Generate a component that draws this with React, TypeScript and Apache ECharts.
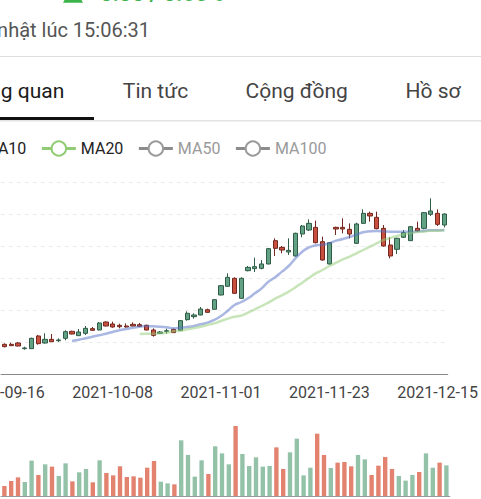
import React, { useEffect, useRef } from 'react';
import * as echarts from 'echarts';

const dates = [
  '2021-09-16', '2021-09-17', '2021-09-20', '2021-09-21', '2021-09-22', '2021-09-23', '2021-09-24', '2021-09-27', '2021-09-28', '2021-09-29',
  '2021-09-30', '2021-10-01', '2021-10-04', '2021-10-05', '2021-10-06', '2021-10-07', '2021-10-08', '2021-10-11', '2021-10-12', '2021-10-13',
  '2021-10-14', '2021-10-15', '2021-10-18', '2021-10-19', '2021-10-20', '2021-10-21', '2021-10-22', '2021-10-25', '2021-10-26', '2021-10-27',
  '2021-10-28', '2021-10-29', '2021-11-01', '2021-11-02', '2021-11-03', '2021-11-04', '2021-11-05', '2021-11-08', '2021-11-09', '2021-11-10',
  '2021-11-11', '2021-11-12', '2021-11-15', '2021-11-16', '2021-11-17', '2021-11-18', '2021-11-19', '2021-11-22', '2021-11-23', '2021-11-24',
  '2021-11-25', '2021-11-26', '2021-11-29', '2021-11-30', '2021-12-01', '2021-12-02', '2021-12-03', '2021-12-06', '2021-12-07', '2021-12-08',
  '2021-12-09', '2021-12-10', '2021-12-13', '2021-12-14', '2021-12-15', '2021-12-16',
];

const opens = [
  29.27, 29.27, 29.69, 27.92, 27.92, 31.88, 29.69, 30.83, 30.42, 31.15,
  33.33, 31.98, 32.71, 34.17, 33.75, 36.25, 35.63, 35.21, 35.0, 35.52,
  35.42, 35.21, 33.75, 32.71, 33.33, 33.96, 33.65, 36.98, 37.92, 38.44,
  40.1, 40.21, 44.69, 47.4, 49.9, 43.65, 52.29, 52.92, 53.02, 54.38,
  61.67, 59.58, 58.13, 56.88, 63.75, 65.0, 65.83, 61.35, 54.38, 65.83,
  65.83, 65.21, 60.83, 67.08, 70.21, 68.96, 65.52, 60.31, 58.96, 62.71,
  61.67, 65.52, 65.52, 69.9, 70.21, 66.56,
];
const closes = [
  28.54, 28.85, 28.75, 28.13, 31.15, 29.48, 30.83, 30.1, 30.63, 33.23,
  32.5, 33.13, 34.27, 33.65, 35.94, 35.0, 34.69, 34.79, 34.69, 35.0,
  34.9, 33.75, 32.08, 33.13, 33.54, 32.92, 36.67, 38.96, 38.44, 40.31,
  39.27, 43.23, 47.6, 50.21, 45.21, 49.9, 53.33, 53.54, 54.38, 59.17,
  59.27, 58.75, 58.65, 63.96, 66.25, 67.08, 61.04, 55.63, 61.04, 65.31,
  65.31, 63.75, 66.88, 70.21, 69.38, 65.42, 60.0, 56.88, 62.4, 64.17,
  66.04, 64.69, 70.42, 70.94, 66.77, 70.0,
];
const lows = [
  28.33, 28.75, 28.65, 27.6, 27.81, 29.17, 29.48, 30.0, 30.0, 30.52,
  32.4, 31.88, 32.19, 33.54, 33.65, 34.9, 34.48, 34.27, 34.48, 34.9,
  34.79, 33.65, 31.67, 32.5, 32.6, 32.81, 33.54, 36.67, 37.29, 38.33,
  39.17, 40.1, 44.58, 47.29, 45.1, 43.44, 52.08, 51.88, 52.71, 54.27,
  56.88, 57.71, 57.19, 56.67, 62.71, 64.69, 60.83, 55.42, 54.17, 63.44,
  63.96, 62.4, 60.63, 66.88, 67.6, 65.21, 59.79, 56.15, 57.5, 62.6,
  61.56, 64.48, 65.21, 69.38, 66.25, 65.83,
];
const highs = [
  29.58, 29.79, 30.0, 28.54, 31.35, 32.19, 32.71, 32.5, 31.15, 33.65,
  33.54, 34.06, 35.0, 34.69, 36.25, 36.46, 36.35, 35.73, 35.83, 36.15,
  35.94, 35.42, 34.27, 33.44, 34.17, 34.17, 36.88, 39.58, 38.96, 40.94,
  40.42, 43.44, 47.81, 51.46, 50.21, 50.21, 53.75, 56.35, 55.63, 59.38,
  62.4, 60.0, 62.4, 64.17, 66.56, 68.33, 67.92, 62.92, 61.25, 66.04,
  68.65, 67.08, 67.29, 71.46, 70.73, 70.73, 66.56, 62.71, 62.6, 65.0,
  66.25, 67.6, 70.63, 74.9, 71.46, 70.21,
];
const volumes = [
  125, 188, 233, 175, 442, 263, 396, 367, 250, 408,
  183, 296, 338, 171, 446, 288, 258, 371, 238, 246,
  229, 354, 438, 179, 158, 146, 696, 513, 242, 446,
  275, 621, 533, 396, 875, 525, 375, 483, 367, 375,
  608, 338, 546, 717, 258, 354, 779, 513, 350, 417,
  425, 371, 513, 458, 263, 379, 488, 338, 250, 192,
  263, 300, 533, 354, 417, 383,
];
const ma10 = [
  null, null, null, null, null, null, null, null, null, null,
  30.31, 30.73, 31.15, 31.67, 32.08, 32.6, 33.13, 33.65, 34.06, 34.48,
  34.79, 35.0, 34.9, 34.79, 34.58, 34.27, 34.48, 34.69, 35.0, 35.52,
  36.04, 36.88, 38.13, 39.79, 41.56, 42.5, 43.65, 45.21, 46.77, 48.85,
  50.21, 51.98, 53.75, 56.15, 58.23, 59.58, 60.21, 60.42, 60.83, 61.67,
  62.19, 62.81, 63.54, 64.27, 64.58, 64.69, 64.58, 64.48, 64.48, 64.48,
  64.38, 64.58, 64.79, 64.9, 64.9, 65.0,
];
const ma20 = [
  null, null, null, null, null, null, null, null, null, null,
  null, null, null, null, null, null, null, null, null, null,
  32.5, 32.6, 32.6, 32.71, 32.92, 33.33, 33.54, 33.96, 34.38, 34.79,
  35.31, 35.83, 36.56, 37.29, 37.92, 38.23, 39.17, 40.21, 41.25, 42.29,
  43.54, 44.58, 45.73, 47.08, 48.54, 50.0, 51.46, 52.5, 53.75, 54.79,
  55.83, 56.67, 57.71, 58.75, 59.79, 60.83, 61.88, 62.5, 63.13, 63.65,
  64.06, 64.38, 64.48, 64.79, 64.79, 65.0,
];
const ma50: number[] = [];
const ma100: number[] = [];
const legendNames = ['MA10', 'MA20', 'MA50', 'MA100'];
const tabs = ['Tổng quan', 'Tin tức', 'Cộng đồng', 'Hồ sơ'];
const tabCenters = [15, 155.5, 296.7, 433];

const OFF = 100;
const UP = '#62a183';
const UP_BORDER = '#2f5c47';
const DOWN = '#c9503f';
const DOWN_BORDER = '#72281f';
const VOL_UP = '#93c2a9';
const VOL_DOWN = '#e2826f';
const GREEN_TXT = '#3cb44b';
const FONT = 'Roboto';

export default function App() {
  const ref = useRef<HTMLDivElement>(null);
  useEffect(() => {
    const chart = echarts.init(ref.current!, null, { renderer: 'svg' });
    const X = (sx: number) => sx + OFF;
    const candleData = dates.map((_, i) => [opens[i], closes[i], lows[i], highs[i]]);
    const volData = volumes.map((v, i) => ({
      value: v,
      itemStyle: { color: closes[i] >= opens[i] ? VOL_UP : VOL_DOWN },
    }));
    chart.setOption({
      animation: false,
      textStyle: { fontFamily: FONT },
      color: ['#5470c6', '#91cc75', '#fac858', '#ee6666'],
      legend: {
        data: legendNames,
        selected: { MA50: false, MA100: false },
        left: X(-61.7),
        top: 135.3,
        itemWidth: 34,
        itemHeight: 18,
        itemGap: 14,
        textStyle: { fontSize: 16, color: '#222', fontFamily: FONT },
        inactiveColor: '#9a9a9a',
        lineStyle: { width: 3, opacity: 1, inactiveColor: '#8c8c8c', inactiveWidth: 3 },
        itemStyle: { opacity: 1, inactiveColor: '#8c8c8c', inactiveBorderColor: '#8c8c8c' },
      },
      grid: [
        { left: 101, right: 31.2, top: 182, bottom: 125 },
        { left: 101, right: 31.2, top: 416, bottom: 3 },
      ],
      xAxis: [
        {
          type: 'category',
          data: dates,
          gridIndex: 0,
          boundaryGap: true,
          axisLine: { lineStyle: { color: '#8a8a8a', width: 1 } },
          axisTick: { alignWithLabel: true, interval: 15, length: 5, lineStyle: { color: '#8a8a8a' } },
          axisLabel: { interval: 15, fontSize: 16, color: '#444', margin: 10, fontFamily: FONT },
          splitLine: { show: false },
        },
        {
          type: 'category',
          data: dates,
          gridIndex: 1,
          boundaryGap: true,
          axisLine: { lineStyle: { color: '#9a9a9a', width: 1 } },
          axisTick: { show: false },
          axisLabel: { show: false },
          splitLine: { show: false },
        },
      ],
      yAxis: [
        {
          type: 'value',
          gridIndex: 0,
          min: 20,
          max: 80,
          interval: 10,
          axisLabel: { show: false },
          axisLine: { show: false },
          axisTick: { show: false },
          splitLine: { lineStyle: { color: '#ececec', type: [4, 4] } },
        },
        {
          type: 'value',
          gridIndex: 1,
          min: 0,
          max: 1000,
          axisLabel: { show: false },
          axisLine: { show: false },
          axisTick: { show: false },
          splitLine: { show: false },
        },
      ],
      series: [
        {
          name: 'K',
          type: 'candlestick',
          xAxisIndex: 0,
          yAxisIndex: 0,
          data: candleData,
          barWidth: '70%',
          itemStyle: {
            color: UP,
            color0: DOWN,
            borderColor: UP_BORDER,
            borderColor0: DOWN_BORDER,
            borderWidth: 1,
          },
        },
        {
          name: 'MA10', type: 'line', data: ma10, smooth: true, showSymbol: false,
          xAxisIndex: 0, yAxisIndex: 0, lineStyle: { width: 2.5, opacity: 0.5 },
        },
        {
          name: 'MA20', type: 'line', data: ma20, smooth: true, showSymbol: false,
          xAxisIndex: 0, yAxisIndex: 0, lineStyle: { width: 2.5, opacity: 0.5 },
        },
        {
          name: 'MA50', type: 'line', data: ma50, smooth: true, showSymbol: false,
          xAxisIndex: 0, yAxisIndex: 0, lineStyle: { width: 2.5, opacity: 0.5 },
        },
        {
          name: 'MA100', type: 'line', data: ma100, smooth: true, showSymbol: false,
          xAxisIndex: 0, yAxisIndex: 0, lineStyle: { width: 2.5, opacity: 0.5 },
        },
        {
          name: 'Volume',
          type: 'bar',
          xAxisIndex: 1,
          yAxisIndex: 1,
          data: volData,
          barWidth: '64%',
        },
      ],
      graphic: [
        {
          type: 'polygon',
          shape: { points: [[X(63), 2.7], [X(73), -15], [X(83), 2.7]] },
          style: { fill: GREEN_TXT },
        },
        {
          type: 'text',
          x: X(100),
          y: -6.5,
          style: {
            text: '0.30 / 0.65%', fontSize: 22, fontWeight: 'bold', fill: GREEN_TXT,
            fontFamily: FONT, align: 'left', verticalAlign: 'middle',
          },
        },
        {
          type: 'text',
          x: X(150),
          y: 30,
          style: {
            text: 'Cập nhật lúc 15:06:31', fontSize: 20, fill: '#555',
            fontFamily: FONT, align: 'right', verticalAlign: 'middle',
          },
        },
        { type: 'rect', shape: { x: 0, y: 56, width: 481 + OFF, height: 1 }, style: { fill: '#dedede' } },
        ...tabs.map((t, i) => ({
          type: 'text',
          x: X(tabCenters[i]),
          y: 90.6,
          style: {
            text: t, fontSize: 21, fill: i === 0 ? '#1a1a1a' : '#444',
            fontFamily: FONT, align: 'center', verticalAlign: 'middle',
          },
        })),
        { type: 'rect', shape: { x: 0, y: 120, width: 481 + OFF, height: 1.5 }, style: { fill: '#e2e2e2' } },
        { type: 'rect', shape: { x: X(-60), y: 117, width: 154, height: 3 }, style: { fill: '#111' } },
      ],
    });
    return () => chart.dispose();
  }, []);
  return (
    <div
      style={{
        position: 'fixed', left: 0, top: 0, width: 481, height: 499,
        overflow: 'hidden', background: '#fff',
      }}
    >
      <div ref={ref} style={{ position: 'absolute', left: -OFF, top: 0, width: 481 + OFF, height: 499 }} />
    </div>
  );
}
